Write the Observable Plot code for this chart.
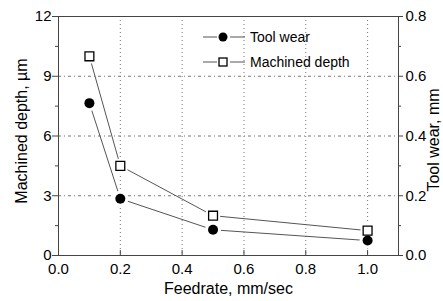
<!DOCTYPE html>
<html><head><meta charset="utf-8">
<script src="https://cdn.jsdelivr.net/npm/d3@7"></script>
<script src="https://cdn.jsdelivr.net/npm/@observablehq/plot@0.6"></script>
<style>body{margin:0;background:white}</style>
</head><body><div id="chart"></div>
<script>
const feedrate = [0.1, 0.2, 0.5, 1.0];
const machinedDepth = [10.0, 4.5, 2.0, 1.25];
const toolWear = [0.51, 0.19, 0.086, 0.05];
const xTicks = [0.0, 0.2, 0.4, 0.6, 0.8, 1.0];
const leftTicks = [0, 3, 6, 9, 12];
const leftMinor = [1.5, 4.5, 7.5, 10.5];
const rightTicks = [0.0, 0.2, 0.4, 0.6, 0.8];
const rightMinor = [0.1, 0.3, 0.5, 0.7];
const seriesNames = ["Tool wear", "Machined depth"];

const K = 12 / 0.8; // right axis -> left axis units
const depth = feedrate.map((x, i) => ({x, y: machinedDepth[i]}));
const wear = feedrate.map((x, i) => ({x, y: toolWear[i] * K}));
const axisColor = "#444";
const font = "'Liberation Sans', Arial, sans-serif";

const chart = Plot.plot({
  width: 443, height: 301,
  marginLeft: 58, marginRight: 45, marginTop: 16, marginBottom: 46,
  x: {domain: [0, 1.1]},
  y: {domain: [0, 12]},
  style: {fontFamily: font, fontSize: "15px", color: "black", background: "white"},
  marks: [
    Plot.gridX(xTicks.filter(d => d > 0), {stroke: "#777", strokeOpacity: 1, strokeDasharray: "1,3"}),
    Plot.gridY([3, 6, 9], {stroke: "#777", strokeOpacity: 1, strokeDasharray: "3,3,1,3"}),
    Plot.axisX({ticks: xTicks, tickSize: 0, tickPadding: 8, tickFormat: d => d.toFixed(1), label: null, fontSize: 15}),
    Plot.ruleX(xTicks, {y1: 0, y2: 0.25, stroke: axisColor}),
    Plot.axisY({ticks: leftTicks, tickSize: 6, tickPadding: 1, label: null, stroke: axisColor, fontSize: 15}),
    Plot.axisY({ticks: leftMinor, tickSize: 3, tickFormat: () => "", label: null, stroke: axisColor}),
    Plot.axisY({anchor: "right", ticks: rightTicks.map(v => v * K), tickFormat: d => (d / K).toFixed(1), tickSize: 4, tickPadding: 3, label: null, stroke: axisColor, fontSize: 15}),
    Plot.axisY({anchor: "right", ticks: rightMinor.map(v => v * K), tickFormat: () => "", tickSize: 2, label: null, stroke: axisColor}),
    Plot.frame({stroke: axisColor}),
    Plot.text(["Feedrate, mm/sec"], {frameAnchor: "bottom", dy: 38, textAnchor: "middle", fontSize: 16, fill: "black"}),
    Plot.text(["Machined depth, µm"], {frameAnchor: "left", dx: -37, dy: -5, textAnchor: "middle", rotate: -90, fontSize: 16, fill: "black"}),
    Plot.text(["Tool wear, mm"], {frameAnchor: "right", dx: 35, dy: 4, textAnchor: "middle", rotate: -90, fontSize: 16, fill: "black"}),
    Plot.line(depth, {x: "x", y: "y", stroke: "#555", strokeWidth: 1}),
    Plot.line(wear, {x: "x", y: "y", stroke: "#555", strokeWidth: 1}),
    Plot.dot(depth, {x: "x", y: "y", symbol: "square", r: 8, fill: "white"}),
    Plot.dot(wear, {x: "x", y: "y", r: 8, fill: "white"}),
    Plot.dot(depth, {x: "x", y: "y", symbol: "square", r: 5, fill: "white", stroke: "black", strokeWidth: 1.3}),
    Plot.dot(wear, {x: "x", y: "y", r: 5, fill: "black"})
  ]
});
document.getElementById("chart").appendChild(chart);

// legend
const svg = d3.select(chart);
const lg = svg.append("g").attr("text-anchor", "start");
const rows = [{y: 37, name: seriesNames[0], sym: "circle"}, {y: 62, name: seriesNames[1], sym: "square"}];
rows.forEach(r => {
  lg.append("line").attr("x1", 203).attr("x2", 245).attr("y1", r.y).attr("y2", r.y).attr("stroke", "#555");
  lg.append("rect").attr("x", 217).attr("y", r.y - 6).attr("width", 13).attr("height", 12).attr("fill", "white");
  if (r.sym === "circle") lg.append("circle").attr("cx", 223).attr("cy", r.y).attr("r", 4.5).attr("fill", "black");
  else lg.append("rect").attr("x", 219).attr("y", r.y - 4).attr("width", 8).attr("height", 8).attr("fill", "white").attr("stroke", "black").attr("stroke-width", 1.3);
  lg.append("text").attr("x", 250).attr("y", r.y).attr("dy", "0.35em").attr("text-anchor", "start").attr("font-size", 14).attr("font-family", font).attr("fill", "black").text(r.name);
});
</script></body></html>
